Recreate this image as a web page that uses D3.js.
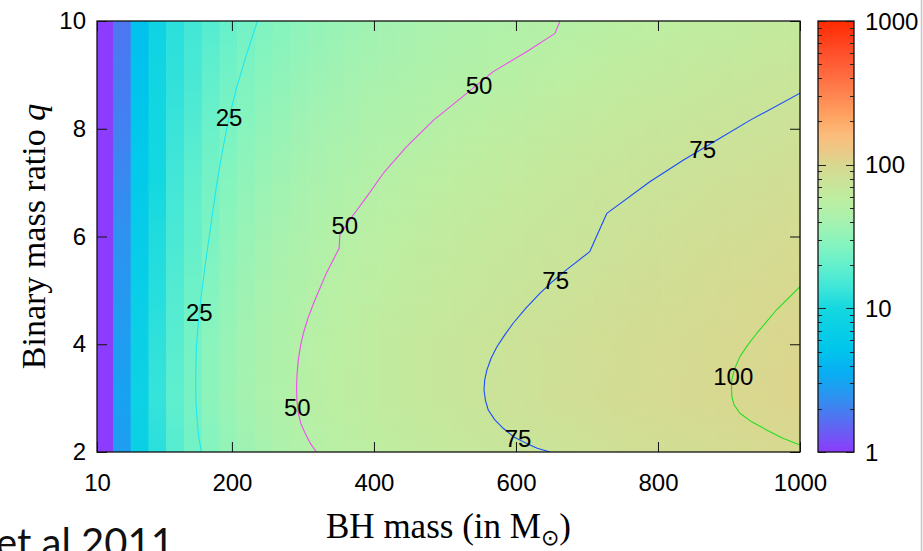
<!DOCTYPE html>
<html>
<head>
<meta charset="utf-8">
<script src="https://cdn.jsdelivr.net/npm/d3@7"></script>
<style>
  body { margin: 0; background: #fff; }
  svg { display: block; }
</style>
</head>
<body>
<svg id="graphic" width="923" height="551"></svg>
<script>

// BH mass grid columns (cell centres, in solar masses)
const massCenters = [20, 45, 70, 95, 120, 145, 170, 195, 220, 245, 270, 295, 320, 345, 370, 395, 420, 445, 470, 495,
                     520, 545, 570, 595, 620, 645, 670, 695, 720, 745, 770, 795, 820, 845, 870, 895, 920, 945, 970, 995]

// binary mass ratio rows
const ratioRows = [2, 3, 4, 5, 6, 7, 8, 9, 10]

// colour values, one list per mass ratio row
const rateQ2  = [1.0, 2.8, 7.5, 12, 17.5, 23, 27.8, 32.7, 36.9, 40.7, 44.1, 47.3, 50.1, 52.8, 55.2, 57.5, 59.7, 61.8, 63.7, 65.5,
                 67.2, 68.9, 70.5, 72, 73.5, 74.9, 76.8, 78.7, 80.6, 82.4, 84.1, 85.8, 87.5, 89.1, 90.6, 92.1, 93.6, 95, 96.4, 97.8]
const rateQ3  = [1.0, 3.0, 8, 13, 19, 24.5, 30, 35, 39.5, 43.5, 47, 50.5, 53.5, 56, 58.5, 61, 63, 65.5, 67.5, 69.5,
                 71, 73, 75.5, 78.5, 80.5, 82.5, 84.5, 86.5, 88, 90, 91.5, 93.5, 95, 96.5, 98, 99.5, 101, 102, 103.5, 105]
const rateQ4  = [1.0, 2.8, 7.5, 12.5, 18, 23.8, 29.5, 34.4, 38.8, 42.7, 46.2, 49.3, 52.5, 55.4, 58.1, 60.6, 63, 65.2, 67.3, 69.3,
                 71.2, 73, 74.8, 76.9, 79, 81, 82.9, 84.8, 86.6, 88.3, 90, 91.6, 93.2, 94.8, 96.2, 97.7, 99.1, 100.4, 101.8, 103]
const rateQ5  = [1.0, 2.6, 7, 11.5, 17, 22, 27.6, 32.4, 36.6, 40.4, 43.8, 46.8, 49.7, 52.4, 55, 57.4, 59.6, 61.8, 63.8, 65.7,
                 67.5, 69.2, 70.9, 72.4, 73.9, 75.6, 77.8, 79.8, 81.8, 83.7, 85.6, 87.4, 89.1, 90.8, 92.5, 94.1, 95.6, 97.1, 98.6, 100]
const rateQ6  = [1.0, 2.4, 6.5, 11, 15.5, 20, 25.4, 30, 34.1, 37.8, 41, 44, 46.8, 49.3, 51.8, 54.1, 56.3, 58.3, 60.2, 62.1,
                 63.8, 65.5, 67.1, 68.6, 70.1, 71.4, 72.8, 74.1, 75.5, 77.4, 79.2, 81, 82.7, 84.3, 85.9, 87.5, 89, 90.5, 91.9, 93.3]
const rateQ7  = [1.0, 2.2, 6, 10, 14.5, 19, 23.8, 27.9, 31.6, 34.9, 37.8, 40.5, 42.9, 45.2, 47.3, 49.4, 51.5, 53.6, 55.7, 57.6,
                 59.5, 61.2, 62.9, 64.5, 66, 67.5, 69, 70.3, 71.7, 73, 74.2, 75.5, 77, 78.4, 79.8, 81.2, 82.5, 83.8, 85, 86.2]
const rateQ8  = [1.0, 2.0, 5.5, 9.5, 13.5, 17, 21.4, 25.3, 28.7, 31.7, 34.4, 36.9, 39.2, 41.3, 43.2, 45, 46.8, 48.4, 49.9, 51.8,
                 53.7, 55.5, 57.2, 58.8, 60.4, 61.9, 63.3, 64.7, 66.1, 67.4, 68.6, 69.9, 71, 72.2, 73.3, 74.4, 75.4, 76.6, 77.8, 79]
const rateQ9  = [1.0, 1.9, 5, 9, 12.5, 15.3, 19.3, 22.9, 25.9, 28.7, 31.2, 33.5, 35.5, 37.5, 39.3, 40.9, 42.5, 44, 45.4, 46.7,
                 48, 49.2, 50.6, 52.2, 53.8, 55.4, 56.9, 58.3, 59.7, 61, 62.3, 63.5, 64.7, 65.9, 67, 68.1, 69.2, 70.2, 71.3, 72.2]
const rateQ10 = [1.0, 1.8, 4.8, 8.5, 12, 14.5, 17.1, 20.4, 23.3, 25.9, 28.3, 30.4, 32.4, 34.2, 35.9, 37.5, 39, 40.3, 41.7, 42.9,
                 44.1, 45.3, 46.3, 47.4, 48.4, 49.3, 50.5, 51.8, 53.1, 54.4, 55.7, 56.9, 58, 59.2, 60.2, 61.3, 62.3, 63.3, 64.3, 65.3]

// contour lines as [BH mass, q] points
const contour25  = [[157, 2.0], [153, 2.3], [151, 2.59], [149.5, 2.9], [149, 3.21], [149.3, 3.6], [150, 3.95],
                    [152, 4.3], [155, 4.70], [162, 5.44], [170, 6.18], [178, 6.92], [186, 7.54], [195, 8.16],
                    [207, 8.78], [221, 9.40], [236, 10]]
const contour50  = [[319, 2.0], [310, 2.17], [303, 2.35], [297, 2.53], [293.5, 2.72], [291.5, 2.96], [291, 3.21],
                    [291.8, 3.46], [293.5, 3.71], [296.5, 3.96], [300.5, 4.20], [307, 4.48], [315, 4.76],
                    [333, 5.32], [351, 5.78], [352, 6.03], [366, 6.31], [390, 6.74], [413, 7.17], [446, 7.67],
                    [484, 8.16], [531, 8.66], [568, 9.06], [615, 9.43], [655, 9.77], [662, 10]]
const contour75  = [[648, 2.0], [630, 2.07], [615, 2.16], [597, 2.28], [582, 2.44], [570, 2.6], [561, 2.78],
                    [557, 2.96], [555, 3.15], [556, 3.34], [559, 3.52], [565, 3.74], [573, 3.95], [584, 4.17],
                    [596, 4.39], [614, 4.67], [634, 4.95], [652, 5.17], [671, 5.38], [704, 5.72], [728, 6.43],
                    [789, 7.02], [836, 7.42], [883, 7.79], [930, 8.16], [1000, 8.66]]
const contour100 = [[1000, 2.13], [975, 2.26], [953, 2.41], [932, 2.56], [915.5, 2.72], [907, 2.88], [904, 3.03],
                    [903.5, 3.19], [904, 3.34], [908, 3.55], [915.5, 3.77], [926, 3.98], [939, 4.20],
                    [967, 4.64], [1000, 5.07]]

// contour labels
const labelMass  = [196, 154, 548, 359, 292, 863, 656, 603, 906]
const labelRatio = [8.22, 4.60, 8.81, 6.21, 2.82, 7.61, 5.19, 2.26, 3.41]
const labelText  = ["25", "25", "50", "50", "50", "75", "75", "75", "100"]

// tick labels
const massTicks  = [10, 200, 400, 600, 800, 1000]
const ratioTicks = [2, 4, 6, 8, 10]
const cbTicks    = [1, 10, 100, 1000]

// palette (log10 of value -> colour)
const paletteStops  = [0, 0.18, 0.38, 0.55, 0.72, 1.0, 1.15, 1.3, 1.45, 1.6, 1.75, 2.0, 2.1, 2.2, 2.35, 2.55, 2.8, 3.0]
const paletteColors = ["#8c3cfc", "#6066f2", "#2e92f0", "#08aef2", "#00c6ec", "#14d8e0", "#40e6d8", "#64f0cc",
                       "#86f4be", "#a6f2b0", "#bcefa2", "#d8d890", "#ecc886", "#fbbd7c", "#ffa060", "#ff7848",
                       "#ff4c28", "#ff2a00"]

const gridValues = [rateQ2, rateQ3, rateQ4, rateQ5, rateQ6, rateQ7, rateQ8, rateQ9, rateQ10]
const contours = [
    {pts: contour25, color: "#1ee8f2"},
    {pts: contour50, color: "#f04ef0"},
    {pts: contour75, color: "#1a4cff"},
    {pts: contour100, color: "#22e022"}
]

const sansFont = '"Liberation Sans", Arial, Helvetica, sans-serif'
const serifFont = '"Liberation Serif", "Times New Roman", serif'

// plot box
const plotL = 97, plotR = 800, plotT = 21, plotB = 452

const xScale = d3.scaleLinear().domain([10, 1000]).range([plotL, plotR])
const yScale = d3.scaleLinear().domain([2, 10]).range([plotB, plotT])

const colorScale = d3.scaleLog()
    .domain(paletteStops.map(s => Math.pow(10, s)))
    .range(paletteColors)
    .interpolate(d3.interpolateRgb)
    .clamp(true)

const svg = d3.select("#graphic")
const defs = svg.append("defs")

defs.append("clipPath").attr("id", "plot-clip")
    .append("rect")
    .attr("x", plotL).attr("y", plotT)
    .attr("width", plotR - plotL).attr("height", plotB - plotT)

// one vertical gradient per mass column, stops from the row values
massCenters.forEach((m, i) => {
    const grad = defs.append("linearGradient")
        .attr("id", "col" + i)
        .attr("gradientUnits", "userSpaceOnUse")
        .attr("x1", 0).attr("x2", 0)
        .attr("y1", yScale(2)).attr("y2", yScale(10))
    ratioRows.forEach((q, j) => {
        grad.append("stop")
            .attr("offset", (q - 2) / 8)
            .attr("stop-color", colorScale(gridValues[j][i]))
    })
})

// heat map columns
svg.append("g")
    .selectAll("rect")
    .data(massCenters)
    .enter()
    .append("rect")
    .attr("x", d => xScale(Math.max(10, d - 12.5)))
    .attr("width", d => xScale(Math.min(1000, d + 12.5)) - xScale(Math.max(10, d - 12.5)) + 0.6)
    .attr("y", plotT)
    .attr("height", plotB - plotT)
    .attr("fill", (d, i) => `url(#col${i})`)

// contour lines, straight segments like the original polylines
const line = d3.line()
    .x(d => xScale(d[0]))
    .y(d => yScale(d[1]))

svg.append("g")
    .attr("clip-path", "url(#plot-clip)")
    .selectAll("path")
    .data(contours)
    .enter()
    .append("path")
    .attr("d", d => line(d.pts))
    .attr("fill", "none")
    .attr("stroke", d => d.color)
    .attr("stroke-width", 1.1)
    .attr("stroke-linejoin", "round")

// contour labels
svg.append("g")
    .selectAll("text")
    .data(labelText)
    .enter()
    .append("text")
    .attr("x", (d, i) => xScale(labelMass[i]))
    .attr("y", (d, i) => yScale(labelRatio[i]))
    .attr("dy", "0.36em")
    .attr("text-anchor", "middle")
    .attr("font-family", sansFont)
    .attr("font-size", 24)
    .text(d => d)

// axes: ticks point inwards on all four sides
function styleAxis(g) {
    g.select(".domain").remove()
    g.selectAll(".tick line").attr("stroke", "#111").attr("stroke-width", 1)
    g.selectAll(".tick text").attr("font-family", sansFont).attr("font-size", 24).attr("fill", "#000")
}

svg.append("g")
    .attr("transform", `translate(0, ${plotB})`)
    .call(d3.axisBottom(xScale).tickValues(massTicks).tickSize(-10).tickPadding(22).tickFormat(d3.format("d")))
    .call(styleAxis)

svg.append("g")
    .attr("transform", `translate(0, ${plotT})`)
    .call(d3.axisTop(xScale).tickValues(massTicks).tickSize(-10).tickFormat(""))
    .call(styleAxis)

svg.append("g")
    .attr("transform", `translate(${plotL}, 0)`)
    .call(d3.axisLeft(yScale).tickValues(ratioTicks).tickSize(-10).tickPadding(11).tickFormat(d3.format("d")))
    .call(styleAxis)

svg.append("g")
    .attr("transform", `translate(${plotR}, 0)`)
    .call(d3.axisRight(yScale).tickValues(ratioTicks).tickSize(-10).tickFormat(""))
    .call(styleAxis)

// frame
svg.append("rect")
    .attr("x", plotL).attr("y", plotT)
    .attr("width", plotR - plotL).attr("height", plotB - plotT)
    .attr("fill", "none").attr("stroke", "#111").attr("stroke-width", 1.3)

// colour box
const cbLeft = 818, cbRight = 854
const cbScale = d3.scaleLog().domain([1, 1000]).range([plotB, plotT])

svg.append("g")
    .selectAll("rect")
    .data(d3.range(plotT, plotB))
    .enter()
    .append("rect")
    .attr("x", cbLeft).attr("width", cbRight - cbLeft)
    .attr("y", d => d).attr("height", 1.2)
    .attr("fill", d => colorScale(cbScale.invert(d + 0.5)))

const cbAll = cbScale.ticks()
const cbTickG = svg.append("g")
cbAll.forEach(v => {
    const len = cbTicks.includes(v) ? 8 : 4
    const yy = Math.round(cbScale(v)) + 0.5
    cbTickG.append("line").attr("x1", cbLeft).attr("x2", cbLeft + len).attr("y1", yy).attr("y2", yy)
    cbTickG.append("line").attr("x1", cbRight).attr("x2", cbRight - len).attr("y1", yy).attr("y2", yy)
})
cbTickG.selectAll("line").attr("stroke", "#222").attr("stroke-width", 1)

svg.append("rect")
    .attr("x", cbLeft).attr("y", plotT)
    .attr("width", cbRight - cbLeft).attr("height", plotB - plotT)
    .attr("fill", "none").attr("stroke", "#111").attr("stroke-width", 1.3)

svg.append("g")
    .selectAll("text")
    .data(cbTicks)
    .enter()
    .append("text")
    .attr("x", 865)
    .attr("y", d => cbScale(d))
    .attr("dy", "0.36em")
    .attr("font-family", sansFont)
    .attr("font-size", 24)
    .text(d => d)

// axis titles
const xTitle = svg.append("text")
    .attr("x", (plotL + plotR) / 2)
    .attr("y", 538)
    .attr("text-anchor", "middle")
    .attr("font-family", serifFont)
    .attr("font-size", 35)
xTitle.append("tspan").text("BH mass (in M")
xTitle.append("tspan").attr("dy", 7).attr("font-size", 22).attr("font-family", "DejaVu Sans").text("⊙")
xTitle.append("tspan").attr("dy", -7).text(")")

const yTitle = svg.append("text")
    .attr("transform", `translate(45, ${(plotT + plotB) / 2}) rotate(-90)`)
    .attr("text-anchor", "middle")
    .attr("font-family", serifFont)
    .attr("font-size", 34)
yTitle.append("tspan").text("Binary mass ratio ")
yTitle.append("tspan").attr("font-style", "italic").text("q")

// slide remnants
svg.append("text")
    .attr("x", -4)
    .attr("y", 557)
    .attr("font-family", "Lato, 'Open Sans', sans-serif")
    .attr("font-size", 40)
    .attr("fill", "#111")
    .text("et al 2011")

svg.append("line")
    .attr("x1", 921.5).attr("x2", 921.5)
    .attr("y1", 0).attr("y2", 551)
    .attr("stroke", "#c4c4c4").attr("stroke-width", 1.5)

</script>
</body>
</html>
